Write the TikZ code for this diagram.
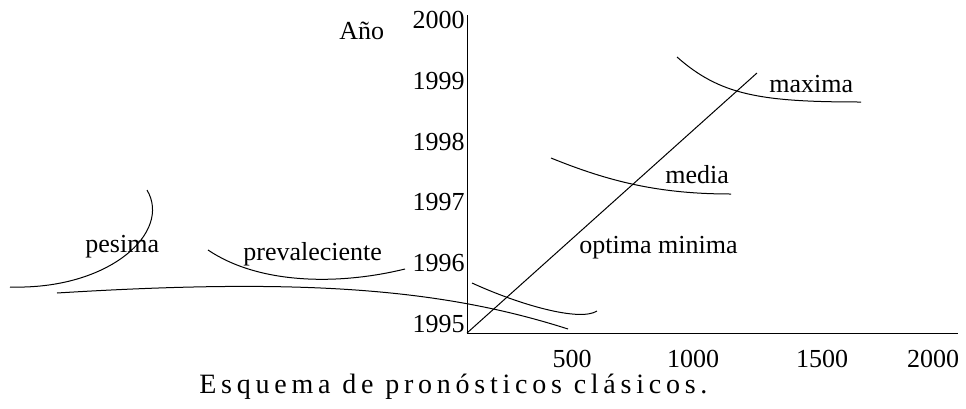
\documentclass[tikz,border=0pt]{standalone}
\usepackage{fontspec}
\setmainfont{Liberation Serif}
\newfontfamily\capfont[LetterSpace=17]{Liberation Serif}
\begin{document}
\begin{tikzpicture}[x=0.5pt,y=-0.5pt,
  lbl/.style={inner sep=0pt,font=\fontsize{13}{15}\selectfont},
  curva/.style={line width=0.5pt}]
\useasboundingbox (0,0) rectangle (966,408);
% ejes
\coordinate (O) at (467,333);
\coordinate (ytop) at (467,15);
\coordinate (xend) at (958,333);
\coordinate (diag) at (757,73);
\draw[curva] (ytop)--(O)--(xend);
\draw[curva] (O)--(diag);
% etiquetas de los ejes
\node[lbl, anchor=base west] (anio) at (339,39) {Año};
\node[lbl, anchor=base east] (y2000) at (465,28) {2000};
\node[lbl, anchor=base east] (y1999) at (465,89) {1999};
\node[lbl, anchor=base east] (y1998) at (465,150) {1998};
\node[lbl, anchor=base east] (y1997) at (465,210) {1997};
\node[lbl, anchor=base east] (y1996) at (465,271) {1996};
\node[lbl, anchor=base east] (y1995) at (465,332) {1995};
\node[lbl, anchor=base] (x500) at (572,367) {500};
\node[lbl, anchor=base] (x1000) at (693,367) {1000};
\node[lbl, anchor=base] (x1500) at (822,367) {1500};
\node[lbl, anchor=base] (x2000) at (933,367) {2000};
% curvas
\draw[curva] (677,57) .. controls (720,95) and (760,102) .. (861,102);
\draw[curva] (551,158) .. controls (610,182) and (660,194) .. (731,194);
\draw[curva] (472,283) .. controls (520,305) and (580,322) .. (597,311);
\draw[curva] (57,293) .. controls (300,278) and (440,288) .. (568,329);
\draw[curva] (147,190) .. controls (172,232) and (110,290) .. (10,287);
\draw[curva] (208,250) .. controls (260,285) and (340,285) .. (405,269);
% nombres de las curvas
\node[lbl, anchor=base west] (maxima) at (769,92) {maxima};
\node[lbl, anchor=base west] (media) at (665,183) {media};
\node[lbl, anchor=base west] (optima) at (579,253) {optima minima};
\node[lbl, anchor=base west] (pesima) at (85,252) {pesima};
\node[lbl, anchor=base west] (preval) at (243,260) {prevaleciente};
% pie
\node[lbl, anchor=base west, font=\fontsize{14}{16}\capfont] (pie) at (199,393) {Esquema de pronósticos clásicos.};
\end{tikzpicture}
\end{document}
